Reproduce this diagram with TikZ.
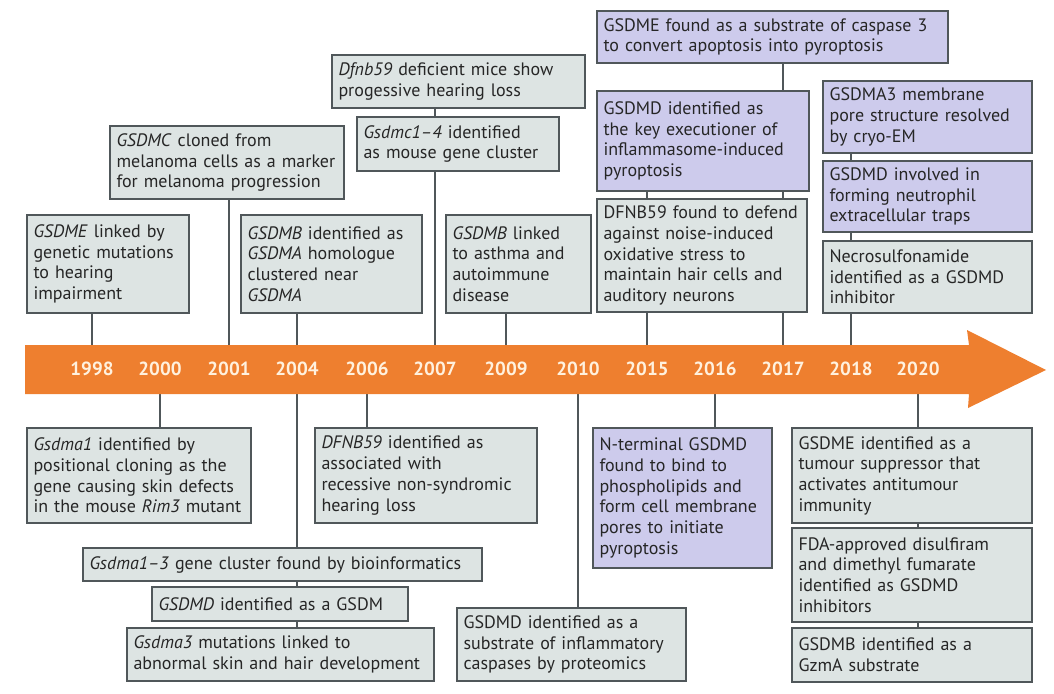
\documentclass[tikz,border=0pt]{standalone}
\usepackage{fontspec}
\setmainfont{PT Sans}
\usetikzlibrary{backgrounds}
\hyphenpenalty=10000
\exhyphenpenalty=10000
\definecolor{boxgrey}{HTML}{DDE4E3}
\definecolor{boxpurple}{HTML}{CDCBEC}
\definecolor{edgegrey}{HTML}{50575A}
\definecolor{arroworange}{HTML}{EE7F2F}
\definecolor{yearcream}{HTML}{FFF1DE}
\definecolor{textdark}{HTML}{262626}
\tikzset{
  evbox/.style={draw=edgegrey, line width=1.2pt, fill=boxgrey, inner xsep=6.5pt, inner ysep=1pt,
    align=left, text=textdark, font=\fontsize{18}{20.7}\selectfont},
  evpurple/.style={evbox, fill=boxpurple},
  yearlbl/.style={text=yearcream, font=\bfseries\fontsize{19}{21}\selectfont, inner sep=0pt},
  conn/.style={draw=edgegrey, line width=1.2pt},
}
\newcommand\ebox[7]{%
  \pgfmathsetmacro\bw{#4-#2}\pgfmathsetmacro\bh{#5-#3}\pgfmathsetmacro\tw{#4-#2-13}%
  \node[#6, minimum width=\bw pt, minimum height=\bh pt, text width=\tw pt]
    (#1) at ({(#2+#4)/2},{(#3+#5)/2}) {#7};}
\begin{document}
\begin{tikzpicture}[x=1pt,y=-1pt]
\useasboundingbox (0,0) rectangle (1054,693);
% timeline arrow
\fill[arroworange] (25,345) -- (969,345) -- (967,330) -- (1046,370) -- (968,408) -- (969,394) -- (25,394) -- cycle;
\coordinate (atop) at (0,345);
\coordinate (abot) at (0,394);
\foreach \yr/\xx in {1998/92,2000/160,2001/229,2004/297,2006/367,2007/435,2009/506,2010/578,2015/647,2016/715,2017/783,2018/851,2020/918}
  \node[yearlbl] (y\yr) at (\xx,369) {\yr};
% upper boxes
\ebox{gsdmeA}{27}{215}{189}{313}{evbox}{\textit{GSDME} linked by\\ genetic mutations\\ to hearing\\ impairment}
\ebox{gsdmc}{110}{126}{344}{199}{evbox}{\textit{GSDMC} cloned from\\ melanoma cells as a marker\\ for melanoma progression}
\ebox{gsdmbA}{241}{215}{422}{313}{evbox}{\textit{GSDMB} identified as\\ \textit{GSDMA} homologue\\ clustered near\\ \textit{GSDMA}}
\ebox{dfnbA}{332}{55}{585}{108}{evbox}{\textit{Dfnb59} deficient mice show\\ progessive hearing loss}
\ebox{gsdmcB}{357}{117}{559}{171}{evbox}{\textit{Gsdmc1--4} identified\\ as mouse gene cluster}
\ebox{gsdmbB}{446}{215}{591}{313}{evbox}{\textit{GSDMB} linked\\ to asthma and\\ autoimmune\\ disease}
\ebox{casp}{597}{11}{948}{63}{evpurple}{GSDME found as a substrate of caspase 3\\ to convert apoptosis into pyroptosis}
\ebox{gsdmdK}{597}{91}{809}{191}{evpurple}{GSDMD identified as\\ the key executioner of\\ inflammasome-induced\\ pyroptosis}
\ebox{dfnbB}{597}{199}{807}{312}{evbox}{DFNB59 found to defend\\ against noise-induced\\ oxidative stress to\\ maintain hair cells and\\ auditory neurons}
\ebox{gsdma3}{823}{81}{1032}{153}{evpurple}{GSDMA3 membrane\\ pore structure resolved\\ by cryo-EM}
\ebox{net}{823}{161}{1032}{232}{evpurple}{GSDMD involved in\\ forming neutrophil\\ extracellular traps}
\ebox{necro}{823}{241}{1032}{313}{evbox}{Necrosulfonamide\\ identified as a GSDMD\\ inhibitor}
% lower boxes
\ebox{gsdma1}{27}{428}{251}{523}{evbox}{\textit{Gsdma1} identified by\\ positional cloning as the\\ gene causing skin defects\\ in the mouse \textit{Rim3} mutant}
\ebox{dfnbC}{315}{428}{537}{523}{evbox}{\textit{DFNB59} identified as\\ associated with\\ recessive non-syndromic\\ hearing loss}
\ebox{clus}{83}{548}{482}{581}{evbox}{\textit{Gsdma1--3} gene cluster found by bioinformatics}
\ebox{gsdm}{152}{587}{408}{621}{evbox}{\textit{GSDMD} identified as a GSDM}
\ebox{gsdma3m}{127}{628}{434}{681}{evbox}{\textit{Gsdma3} mutations linked to\\ abnormal skin and hair development}
\ebox{subst}{457}{608}{686}{681}{evbox}{GSDMD identified as a\\ substrate of inflammatory\\ caspases by proteomics}
\ebox{nterm}{593}{428}{772}{568}{evpurple}{N-terminal GSDMD\\ found to bind to\\ phospholipids and\\ form cell membrane\\ pores to initiate\\ pyroptosis}
\ebox{tumour}{792}{428}{1032}{523}{evbox}{GSDME identified as a\\ tumour suppressor that\\ activates antitumour\\ immunity}
\ebox{fda}{792}{528}{1032}{622}{evbox}{FDA-approved disulfiram\\ and dimethyl fumarate\\ identified as GSDMD\\ inhibitors}
\ebox{gzma}{792}{628}{1032}{682}{evbox}{GSDMB identified as a\\ GzmA substrate}
% connectors (behind the boxes)
\begin{pgfonlayer}{background}
\draw[conn] (y1998 |- gsdmeA.south) -- (y1998 |- atop);
\draw[conn] (y2001 |- gsdmc.south) -- (y2001 |- atop);
\draw[conn] (y2004 |- gsdmbA.south) -- (y2004 |- atop);
\draw[conn] (y2007 |- dfnbA.south) -- (y2007 |- atop);
\draw[conn] (y2009 |- gsdmbB.south) -- (y2009 |- atop);
\draw[conn] (y2015 |- gsdmdK.south) -- (y2015 |- atop);
\draw[conn] (y2017 |- casp.south) -- (y2017 |- atop);
\draw[conn] (y2018 |- gsdma3.south) -- (y2018 |- atop);
\draw[conn] (y2000 |- abot) -- (y2000 |- gsdma1.north);
\draw[conn] (y2004 |- abot) -- (y2004 |- gsdma3m.north);
\draw[conn] (y2006 |- abot) -- (y2006 |- dfnbC.north);
\draw[conn] (y2010 |- abot) -- (y2010 |- subst.north);
\draw[conn] (y2016 |- abot) -- (y2016 |- nterm.north);
\draw[conn] (y2020 |- abot) -- (y2020 |- gzma.north);
\end{pgfonlayer}
\end{tikzpicture}
\end{document}
